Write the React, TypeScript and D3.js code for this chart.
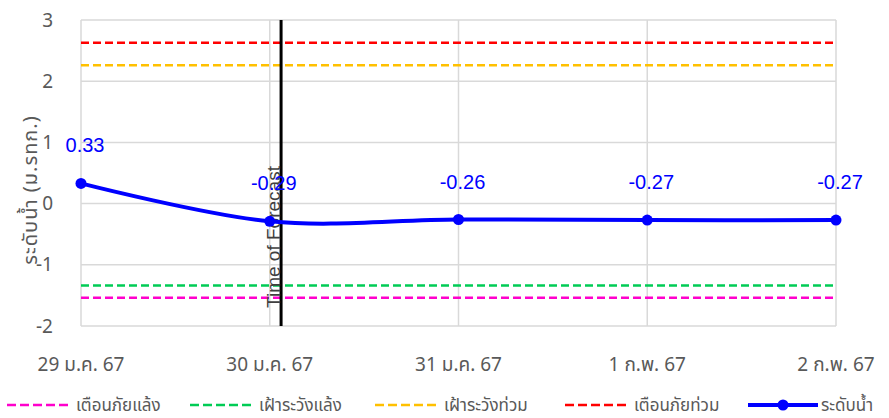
import React from "react";
import * as d3 from "d3";

const categories = ["29 ม.ค. 67", "30 ม.ค. 67", "31 ม.ค. 67", "1 ก.พ. 67", "2 ก.พ. 67"];
const waterLevel = [0.33, -0.29, -0.26, -0.27, -0.27];
const thresholdNames = ["เตือนภัยแล้ง", "เฝ้าระวังแล้ง", "เฝ้าระวังท่วม", "เตือนภัยท่วม"];
const thresholdValues = [-1.54, -1.34, 2.26, 2.63];
const thresholdColors = ["#ff00cc", "#00cc55", "#ffc000", "#ff0000"];
const seriesName = "ระดับน้ำ";
const yTicks = [-2, -1, 0, 1, 2, 3];
const forecastIndex = 1.06;
const forecastLabel = "Time of Forecast";
const yTitle = "ระดับน้ำ (ม.รทก.)";

const W = 889;
const H = 418;
const plot = { left: 81, right: 836, top: 20, bottom: 326 };
const legendX = [7, 190, 375, 565, 748];
const thaiFont = "'Noto Sans Thai', 'Noto Sans', 'Liberation Sans', sans-serif";
const gray = "#595959";
const blue = "#0000ff";

export default function App() {
  const x = d3.scaleLinear().domain([0, categories.length - 1]).range([plot.left, plot.right]);
  const y = d3.scaleLinear().domain([d3.min(yTicks)!, d3.max(yTicks)!]).range([plot.bottom, plot.top]);
  const line = d3
    .line<number>()
    .x((_, i) => x(i))
    .y((d) => y(d))
    .curve(d3.curveCardinal.tension(0));
  const legendY = 405;

  return (
    <div style={{ position: "absolute", left: 0, top: 0 }}>
      <svg width={W} height={H} style={{ display: "block", background: "#fff" }}>
        {/* grid */}
        {yTicks.map((t) => (
          <line key={"gy" + t} x1={plot.left} x2={plot.right} y1={y(t)} y2={y(t)} stroke="#d9d9d9" strokeWidth={1.5} />
        ))}
        {categories.map((c, i) => (
          <line key={"gx" + c} x1={x(i)} x2={x(i)} y1={plot.top} y2={plot.bottom} stroke="#d9d9d9" strokeWidth={1.5} />
        ))}
        {/* y ticks */}
        {yTicks.map((t) => (
          <text key={"yt" + t} x={53} y={y(t)} dy="0.35em" textAnchor="end" fontSize={19} fill={gray} fontFamily={thaiFont}>
            {t}
          </text>
        ))}
        {/* x ticks */}
        {categories.map((c, i) => (
          <text key={"xt" + c} x={x(i)} y={371} textAnchor="middle" fontSize={19} fill={gray} fontFamily={thaiFont}>
            {c}
          </text>
        ))}
        {/* y title */}
        <text
          transform={`translate(30,190) rotate(-90)`}
          textAnchor="middle"
          dy="0.35em"
          fontSize={20}
          letterSpacing={1}
          fill={gray}
          fontFamily={thaiFont}
        >
          {yTitle}
        </text>
        {/* thresholds */}
        {thresholdValues.map((v, i) => (
          <line
            key={"th" + i}
            x1={plot.left}
            x2={plot.right}
            y1={y(v)}
            y2={y(v)}
            stroke={thresholdColors[i]}
            strokeWidth={2.5}
            strokeDasharray="8,4"
          />
        ))}
        {/* forecast line */}
        <line x1={x(forecastIndex)} x2={x(forecastIndex)} y1={plot.top} y2={plot.bottom} stroke="#000" strokeWidth={3} />
        <text
          transform={`translate(${x(forecastIndex) - 1},237) rotate(-90)`}
          textAnchor="middle"
          fontSize={19}
          fill="#404040"
          fontFamily="'Liberation Sans', Arial, sans-serif"
        >
          {forecastLabel}
        </text>
        {/* series */}
        <path d={line(waterLevel) || ""} fill="none" stroke={blue} strokeWidth={4} strokeLinejoin="round" />
        {waterLevel.map((v, i) => (
          <circle key={"pt" + i} cx={x(i)} cy={y(v)} r={5.5} fill={blue} />
        ))}
        {waterLevel.map((v, i) => (
          <text
            key={"lb" + i}
            x={x(i) + 4}
            y={y(v) - 31}
            textAnchor="middle"
            fontSize={20}
            fill={blue}
            fontFamily="'Liberation Sans', Arial, sans-serif"
          >
            {v.toFixed(2)}
          </text>
        ))}
        {/* legend */}
        {thresholdNames.map((n, i) => (
          <g key={"lg" + i} transform={`translate(${legendX[i]},${legendY})`}>
            <line x1={0} x2={65} y1={0} y2={0} stroke={thresholdColors[i]} strokeWidth={2.5} strokeDasharray="9,4" />
            <text x={69} y={0} dy="0.35em" fontSize={17} fill={gray} fontFamily={thaiFont}>
              {n}
            </text>
          </g>
        ))}
        <g transform={`translate(${legendX[4]},${legendY})`}>
          <line x1={0} x2={70} y1={0} y2={0} stroke={blue} strokeWidth={4} />
          <circle cx={35} cy={0} r={5.5} fill={blue} />
          <text x={73} y={0} dy="0.35em" fontSize={17} fill={gray} fontFamily={thaiFont}>
            {seriesName}
          </text>
        </g>
      </svg>
    </div>
  );
}
